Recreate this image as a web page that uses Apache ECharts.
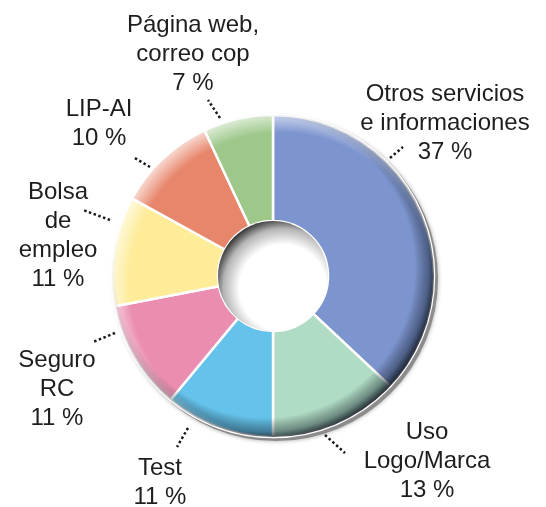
<!DOCTYPE html>
<html>
<head>
<meta charset="utf-8">
<script src="https://cdn.jsdelivr.net/npm/echarts@6.0.0/dist/echarts.min.js"></script>
<style>
  body { margin: 0; background: #fff; }
</style>
</head>
<body>
<div id="servicios" style="width:546px; height:507px;"></div>
<script>
// datos
var categorias = ['Otros servicios\ne informaciones', 'Uso\nLogo/Marca', 'Test', 'Seguro\nRC', 'Bolsa\nde\nempleo', 'LIP-AI', 'Página web,\ncorreo cop'];
var porcentajes = [37, 13, 11, 11, 11, 10, 7];

// estilo
var colores = ['#7d95cf', '#b0dcc6', '#65c2ea', '#eb8db1', '#feec98', '#e8866b', '#9ec88a'];
var posEtiquetas = [[445, 123], [427, 461], [160, 483], [57, 389], [58, 236], [99, 124], [193, 54]];
var lineasPuntos = [
    [[390, 158], [403, 147]],
    [[325, 435], [345, 453]],
    [[188, 428], [177, 447]],
    [[115, 333], [93, 342]],
    [[110, 220], [83, 210]],
    [[150, 167], [133, 157]],
    [[220, 118], [208, 100]]
];

var cx = 273, cy = 276, rIn = 55, rOut = 161;

var datos = [];
for (var i = 0; i < categorias.length; i++) {
    datos.push({ name: categorias[i], value: porcentajes[i], itemStyle: { color: colores[i] } });
}

function adorno(radio, color, centro) {
    return {
        type: 'pie', silent: true, animation: false,
        center: centro || [cx, cy], radius: radio,
        label: { show: false }, labelLine: { show: false },
        emphasis: { disabled: true },
        data: [{ value: 1, itemStyle: { color: color } }]
    };
}

var mychart = echarts.init(document.getElementById('servicios'));

mychart.setOption(option = {
    animation: false,
    series: [
        // sombra exterior
        {
            type: 'pie', silent: true,
            center: [cx + 3, cy + 3], radius: [0, rOut + 1],
            label: { show: false }, labelLine: { show: false },
            emphasis: { disabled: true },
            itemStyle: { color: '#8c8c8c', shadowBlur: 4, shadowColor: 'rgba(0,0,0,0.35)' },
            data: [{ value: 1 }]
        },
        {
            type: 'pie',
            center: [cx, cy],
            radius: [rIn, rOut],
            startAngle: 90,
            itemStyle: { borderColor: '#fff', borderWidth: 2.5 },
            emphasis: { disabled: true },
            label: {
                show: true,
                formatter: '{b}\n{c} %',
                fontFamily: 'Liberation Sans',
                fontSize: 24,
                lineHeight: 29,
                color: '#1e1e1e',
                align: 'center',
                overflow: 'none',
                width: 300
            },
            labelLine: {
                show: true,
                lineStyle: { color: '#1a1a1a', width: 2.5, type: 'dotted' }
            },
            labelLayout: function (params) {
                var k = params.dataIndex;
                return {
                    x: posEtiquetas[k][0],
                    y: posEtiquetas[k][1],
                    align: 'center',
                    verticalAlign: 'middle',
                    labelLinePoints: [lineasPuntos[k][0], lineasPuntos[k][1], lineasPuntos[k][1]]
                };
            },
            data: datos
        },
        // borde oscuro abajo a la derecha
        adorno([rIn, rOut], {
            type: 'radial', x: cx - 8, y: cy - 8, r: 172, global: true,
            colorStops: [
                { offset: 0, color: 'rgba(0,0,0,0)' },
                { offset: 0.87, color: 'rgba(0,0,0,0)' },
                { offset: 0.95, color: 'rgba(10,20,30,0.4)' },
                { offset: 1, color: 'rgba(10,15,25,0.85)' }
            ]
        }),
        // brillo arriba a la izquierda
        adorno([rIn, rOut], {
            type: 'radial', x: cx + 8, y: cy + 8, r: 172, global: true,
            colorStops: [
                { offset: 0, color: 'rgba(255,255,255,0)' },
                { offset: 0.88, color: 'rgba(255,255,255,0)' },
                { offset: 1, color: 'rgba(255,255,255,0.7)' }
            ]
        }),
        // agujero central
        adorno([0, rIn], {
            type: 'radial', x: cx + 10, y: cy + 12, r: 70, global: true,
            colorStops: [
                { offset: 0, color: '#ffffff' },
                { offset: 0.62, color: '#ffffff' },
                { offset: 0.85, color: '#b5b5b5' },
                { offset: 1, color: '#3a3a3a' }
            ]
        })
    ]
});
</script>
</body>
</html>
